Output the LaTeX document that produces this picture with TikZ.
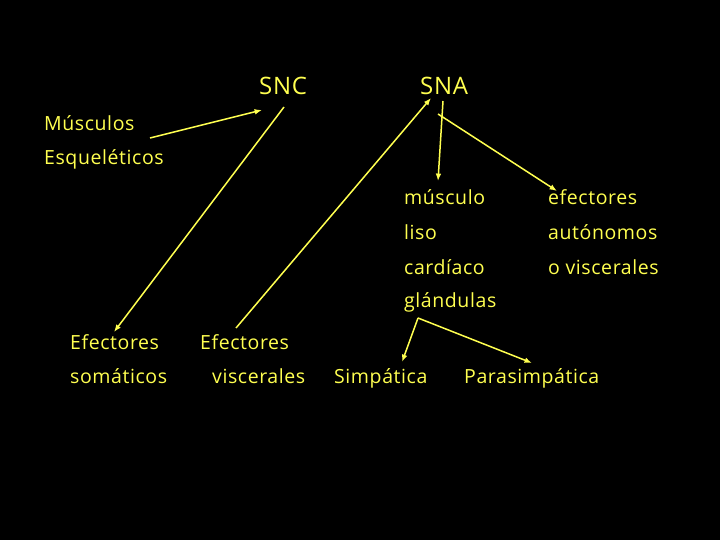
\documentclass[tikz,border=0pt]{standalone}
\usepackage{fontspec}
\setmainfont{Open Sans}[LetterSpace=3]
\usetikzlibrary{positioning, arrows.meta, calc}
\definecolor{slideyellow}{HTML}{FFFF50}
\tikzset{
  word/.style    = {anchor=base west, inner sep=0pt, text=slideyellow,
                    font=\fontsize{19.5}{23}\selectfont},
  title w/.style = {word, font=\fontsize{24}{28}\selectfont},
  arrow y/.style = {-{Latex[length=2.6mm, width=2mm]}, slideyellow, line width=1.5pt},
}
\begin{document}
\begin{tikzpicture}[x=1pt, y=-1pt]

% background and page frame
\fill[black] (0,0) rectangle (720,540);
\useasboundingbox (0,0) rectangle (720,540);

% =====================================================================
% Top: SNC and SNA
% =====================================================================
\node[title w] (snc) at (259, 95) {SNC};
\node[title w] (sna) at (420, 95) {SNA};

\node[word] (musc) at (44, 131) {Músculos};
\node[word] (esq)  at (44, 165) {Esqueléticos};

% =====================================================================
% Right block: targets of the SNA
% =====================================================================
\node[word] (muscl) at (404, 205) {músculo};
\node[word] (liso)  at (404, 240) {liso};
\node[word] (card)  at (404, 274) {cardíaco};
\node[word] (gland) at (404, 307) {glándulas};

\node[word] (efa)   at (548, 205) {efectores};
\node[word] (auto)  at (548, 240) {autónomos};
\node[word] (ovisc) at (548, 274) {o viscerales};

% =====================================================================
% Bottom row
% =====================================================================
\node[word] (efs)  at (70, 349)  {Efectores};
\node[word] (som)  at (70, 383)  {somáticos};
\node[word] (efv)  at (200, 349) {Efectores};
\node[word] (visc) at (212, 383) {viscerales};
\node[word] (simp) at (334, 383) {Simpática};
\node[word] (para) at (464, 383) {Parasimpática};

% Arrows
\draw[arrow y] ($(musc.base west)+(106,7)$) -- ($(snc.base west)+(3,15)$);
\draw[arrow y] ($(snc.base west)+(25,12)$) -- ($(efs.base west)+(44,-17)$);
\draw[arrow y] ($(efv.base west)+(36,-21)$) -- ($(sna.base west)+(11,3)$);
\draw[arrow y] ($(sna.base west)+(23,6)$)  -- ($(muscl.base west)+(34,-24)$);
\draw[arrow y] ($(sna.base west)+(18,19)$) -- ($(efa.base west)+(9,-14)$);
\draw[arrow y] ($(gland.base west)+(14,11)$) -- ($(simp.base west)+(68,-21)$);
\draw[arrow y] ($(gland.base west)+(14,11)$) -- ($(para.base west)+(68,-20)$);

\end{tikzpicture}
\end{document}
